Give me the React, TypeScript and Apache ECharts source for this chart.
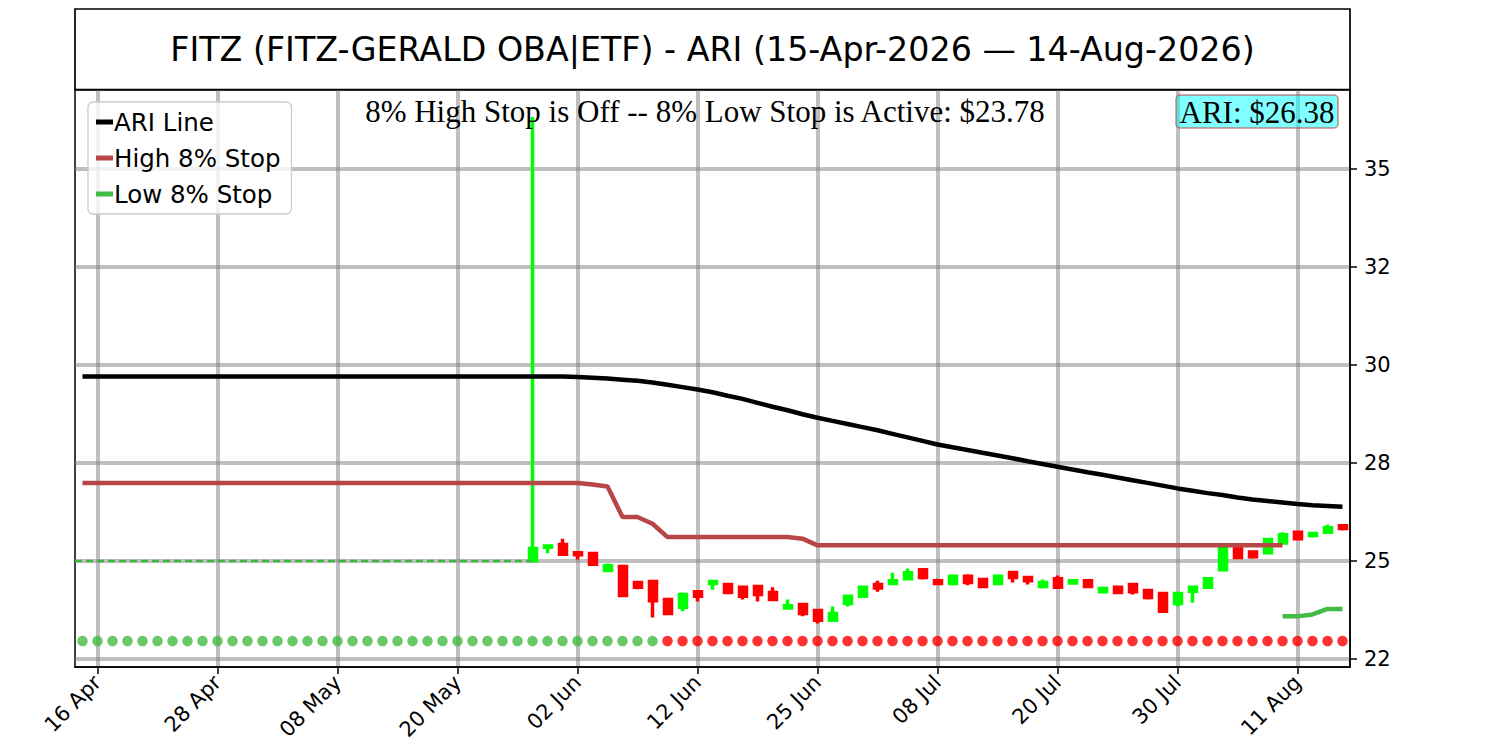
import React, { useEffect, useRef } from "react";
import * as echarts from "echarts";

const TITLE = "FITZ (FITZ-GERALD OBA|ETF) - ARI (15-Apr-2026 \u2014 14-Aug-2026)";
const STATUS_TEXT = "8% High Stop is Off -- 8% Low Stop is Active: $23.78";
const ARI_LABEL = "ARI: $26.38";

const xTickPositions = [1, 9, 17, 25, 33, 41, 49, 57, 65, 73, 81];
const xTickLabels = ["16 Apr", "28 Apr", "08 May", "20 May", "02 Jun", "12 Jun", "25 Jun", "08 Jul", "20 Jul", "30 Jul", "11 Aug"];
const yTickValues = [22.5, 25, 27.5, 30, 32.5, 35];
const yTickLabels = ["22", "25", "28", "30", "32", "35"];

// ARI line, one value per trading day (index 0 = 15 Apr ... 84 = 14 Aug)
const ariLine = [
  29.70, 29.70, 29.70, 29.70, 29.70, 29.70, 29.70, 29.70, 29.70, 29.70,
  29.70, 29.70, 29.70, 29.70, 29.70, 29.70, 29.70, 29.70, 29.70, 29.70,
  29.70, 29.70, 29.70, 29.70, 29.70, 29.70, 29.70, 29.70, 29.70, 29.70,
  29.70, 29.70, 29.70, 29.69, 29.67, 29.65, 29.62, 29.59, 29.55, 29.49,
  29.43, 29.37, 29.30, 29.21, 29.13, 29.03, 28.93, 28.84, 28.74, 28.65,
  28.57, 28.49, 28.41, 28.33, 28.24, 28.15, 28.06, 27.97, 27.90, 27.83,
  27.76, 27.69, 27.62, 27.54, 27.47, 27.40, 27.33, 27.26, 27.20, 27.13,
  27.06, 26.99, 26.92, 26.85, 26.79, 26.73, 26.68, 26.62, 26.57, 26.53,
  26.49, 26.45, 26.42, 26.40, 26.38,
];

const highStop: (number | null)[] = [
  26.99, 26.99, 26.99, 26.99, 26.99, 26.99, 26.99, 26.99, 26.99, 26.99,
  26.99, 26.99, 26.99, 26.99, 26.99, 26.99, 26.99, 26.99, 26.99, 26.99,
  26.99, 26.99, 26.99, 26.99, 26.99, 26.99, 26.99, 26.99, 26.99, 26.99,
  26.99, 26.99, 26.99, 26.99, 26.95, 26.90, 26.12, 26.12, 25.95, 25.61,
  25.61, 25.61, 25.61, 25.61, 25.61, 25.61, 25.61, 25.61, 25.57, 25.40,
  25.40, 25.40, 25.40, 25.40, 25.40, 25.40, 25.40, 25.40, 25.40, 25.40,
  25.40, 25.40, 25.40, 25.40, 25.40, 25.40, 25.40, 25.40, 25.40, 25.40,
  25.40, 25.40, 25.40, 25.40, 25.40, 25.40, 25.40, 25.40, 25.40, 25.40,
  25.40, null, null, null, null,
];

const lowStopStart = 80;
const lowStop = [23.59, 23.59, 23.64, 23.78, 23.78];

const candleStart = 30;
const candleOpen = [25.01, 25.35, 25.42, 25.21, 25.19, 24.76, 24.86, 24.45, 24.48, 24.02, 23.82, 24.22, 24.43, 24.40, 24.33, 24.35, 24.20, 23.80, 23.89, 23.74, 23.49, 23.92, 24.10, 24.40, 24.43, 24.55, 24.78, 24.50, 24.43, 24.61, 24.53, 24.43, 24.71, 24.58, 24.35, 24.55, 24.44, 24.50, 24.22, 24.33, 24.40, 24.25, 24.17, 23.92, 24.23, 24.33, 24.78, 25.31, 25.23, 25.21, 25.46, 25.73, 25.65, 25.73, 25.90];
const candleClose = [25.32, 25.38, 25.17, 25.16, 24.92, 24.88, 24.12, 24.33, 23.99, 23.66, 24.15, 24.10, 24.48, 24.20, 24.10, 24.15, 24.02, 23.86, 23.66, 23.49, 23.66, 24.10, 24.33, 24.31, 24.50, 24.70, 24.58, 24.43, 24.61, 24.45, 24.35, 24.61, 24.58, 24.50, 24.45, 24.33, 24.50, 24.35, 24.30, 24.20, 24.22, 24.07, 23.72, 24.17, 24.33, 24.55, 25.31, 25.09, 25.11, 25.55, 25.67, 25.57, 25.70, 25.85, 25.83];
const candleLow = [24.99, 25.20, 25.16, 25.04, 24.90, 24.75, 24.12, 24.28, 23.56, 23.66, 23.72, 23.97, 24.27, 24.20, 24.02, 23.97, 24.02, 23.79, 23.59, 23.41, 23.49, 23.84, 24.10, 24.22, 24.38, 24.55, 24.53, 24.38, 24.38, 24.38, 24.33, 24.43, 24.45, 24.40, 24.30, 24.33, 24.43, 24.35, 24.17, 24.20, 24.15, 24.02, 23.72, 23.84, 23.94, 24.33, 24.78, 25.09, 25.06, 25.21, 25.46, 25.57, 25.60, 25.73, 25.78];
const candleHigh = [36.31, 25.38, 25.57, 25.22, 25.19, 24.94, 24.87, 24.50, 24.48, 24.05, 24.20, 24.22, 24.50, 24.41, 24.33, 24.35, 24.33, 24.02, 23.89, 23.75, 23.84, 24.10, 24.33, 24.50, 24.70, 24.81, 24.78, 24.55, 24.61, 24.66, 24.53, 24.64, 24.71, 24.58, 24.53, 24.63, 24.50, 24.50, 24.35, 24.35, 24.43, 24.25, 24.17, 24.17, 24.33, 24.58, 25.31, 25.36, 25.23, 25.55, 25.73, 25.73, 25.70, 25.93, 25.90];

const dotLevel = 22.96;
const greenDotCount = 39;
const dashedLevel = 25.0;
const dashedRange = [-0.5, 30];

const GREEN = "#44bb44";
const RED = "#ff0000";
const STOP_RED = "#b84646";

export default function App() {
  const ref = useRef<HTMLDivElement>(null);
  useEffect(() => {
    const chart = echarts.init(ref.current!, null, { renderer: "svg" });
    const ariData = ariLine.map((v, i) => [i, v]);
    const highData = highStop.map((v, i) => [i, v]).filter((d) => d[1] !== null);
    const lowData = lowStop.map((v, i) => [lowStopStart + i, v]);
    const candleData = candleOpen.map((o, i) => [candleStart + i, o, candleClose[i], candleLow[i], candleHigh[i]]);
    const dotData = ariLine.map((_, i) => ({
      value: [i, dotLevel],
      itemStyle: { color: i < greenDotCount ? GREEN : RED },
    }));
    const gridStyle = { color: "rgba(128,128,128,0.5)", width: 4, type: "solid" };
    const option: any = {
      animation: false,
      backgroundColor: "#ffffff",
      grid: {
        left: 75, right: 150, top: 90, bottom: 83,
        show: true, borderColor: "#000", borderWidth: 1.5,
        backgroundColor: "rgba(0,0,0,0)",
        containLabel: false, outerBoundsMode: "none",
      },
      xAxis: {
        type: "value", min: -0.5, max: 84.5, position: "bottom",
        axisLine: { show: true, onZero: false, lineStyle: { color: "#000", width: 1.5 } },
        axisTick: { show: true, customValues: xTickPositions, length: 7, lineStyle: { color: "#000", width: 1.5 } },
        axisLabel: {
          show: true, customValues: xTickPositions,
          formatter: (v: number) => { const k = xTickPositions.indexOf(v); return k >= 0 ? xTickLabels[k] : ""; },
          rotate: 45, fontSize: 21, color: "#000", fontFamily: "DejaVu Sans", margin: 12,
        },
        splitLine: { show: false },
      },
      yAxis: {
        type: "value", position: "right", min: 22.3, max: 37.0, scale: true,
        axisLine: { show: true, onZero: false, lineStyle: { color: "#000", width: 1.5 } },
        axisTick: { show: true, customValues: yTickValues, length: 7, lineStyle: { color: "#000", width: 1.5 } },
        axisLabel: {
          show: true, customValues: yTickValues,
          formatter: (v: number) => { const k = yTickValues.indexOf(v); return k >= 0 ? yTickLabels[k] : ""; },
          fontSize: 21, color: "#000", fontFamily: "DejaVu Sans", margin: 14,
        },
        splitLine: { show: false },
      },
      legend: {
        data: ["ARI Line", "High 8% Stop", "Low 8% Stop"],
        orient: "vertical", left: 88, top: 102,
        icon: "rect", itemWidth: 17, itemHeight: 5, itemGap: 10,
        textStyle: { fontSize: 24.5, fontFamily: "DejaVu Sans", color: "#000", lineHeight: 26, padding: [0, 0, 0, -4] },
        backgroundColor: "rgba(255,255,255,0.8)", borderColor: "#cccccc", borderWidth: 1.3,
        borderRadius: 5, padding: [7, 11, 7, 8], selectedMode: false, z: 20,
      },
      graphic: [
        { type: "rect", z: 10, shape: { x: 75, y: 9, width: 1275, height: 80.5 }, style: { fill: "none", stroke: "#000", lineWidth: 1.7 } },
        { type: "text", z: 10, x: 712.5, y: 49, style: { text: TITLE, fontSize: 33.3, fontFamily: "DejaVu Sans", fill: "#000", textAlign: "center", textVerticalAlign: "middle" } },
        { type: "text", z: 10, x: 705, y: 111, style: { text: STATUS_TEXT, fontSize: 31, fontFamily: "Liberation Serif", fill: "#000", textAlign: "center", textVerticalAlign: "middle" } },
        { type: "rect", z: 10, shape: { x: 1176, y: 95, width: 162, height: 33, r: 4 }, style: { fill: "rgba(0,255,255,0.5)", stroke: "rgba(190,70,70,0.65)", lineWidth: 1.5 } },
        { type: "text", z: 11, x: 1257, y: 112, style: { text: ARI_LABEL, fontSize: 31, fontFamily: "Liberation Serif", fill: "#000", textAlign: "center", textVerticalAlign: "middle" } },
      ],
      series: [
        {
          type: "line", name: "grid", data: [[0, 30]], symbol: "none", silent: true, z: 0,
          lineStyle: { opacity: 0 },
          markLine: {
            silent: true, symbol: ["none", "none"], label: { show: false }, lineStyle: gridStyle,
            emphasis: { disabled: true }, z: 0,
            data: [
              ...yTickValues.map((v) => ({ yAxis: v })),
              ...xTickPositions.map((x) => ({ xAxis: x })),
            ],
          },
        },
        {
          type: "line", name: "trigger", data: [[dashedRange[0], dashedLevel], [dashedRange[1], dashedLevel]],
          symbol: "none", silent: true, z: 4,
          lineStyle: { color: "#3db83d", width: 2.3, type: [7, 4] },
        },
        {
          type: "scatter", name: "dots", data: dotData, symbol: "circle", symbolSize: 10.5, silent: true, z: 2,
        },
        {
          type: "candlestick", name: "price", data: candleData, barWidth: 7.5, silent: true, z: 2,
          itemStyle: { color: "#00ff00", color0: "#ff0000", borderColor: "#00ff00", borderColor0: "#ff0000", borderWidth: 3.5 },
        },
        {
          type: "line", name: "ARI Line", data: ariData, symbol: "none", silent: true, z: 3,
          itemStyle: { color: "#000000" }, lineStyle: { color: "#000000", width: 4.5 },
        },
        {
          type: "line", name: "High 8% Stop", data: highData, symbol: "none", silent: true, z: 3,
          itemStyle: { color: STOP_RED }, lineStyle: { color: STOP_RED, width: 4.5 },
        },
        {
          type: "line", name: "Low 8% Stop", data: lowData, symbol: "none", silent: true, z: 3,
          itemStyle: { color: GREEN }, lineStyle: { color: GREEN, width: 4.5 },
        },
      ],
    };
    chart.setOption(option);
    return () => chart.dispose();
  }, []);
  return (
    <div
      ref={ref}
      style={{ position: "absolute", left: 0, top: 0, width: 1500, height: 750, background: "#fff" }}
    />
  );
}
